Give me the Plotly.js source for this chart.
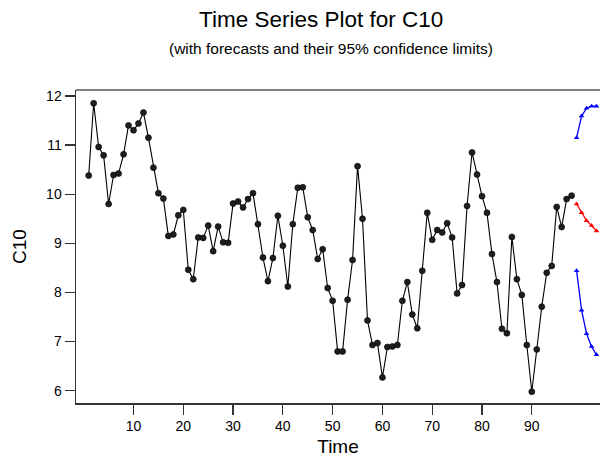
<!DOCTYPE html>
<html>
<head>
<meta charset="utf-8">
<script src="https://cdn.plot.ly/plotly-3.0.1.min.js"></script>
<style>html,body{margin:0;padding:0;background:#fff;}#chart{width:600px;height:463px;}</style>
</head>
<body>
<div id="chart"></div>
<script>
var observed = [10.38, 11.85, 10.96, 10.79, 9.80, 10.39, 10.42, 10.81, 11.40, 11.30,
  11.44, 11.66, 11.15, 10.54, 10.02, 9.91, 9.15, 9.18, 9.57, 9.68,
  8.46, 8.27, 9.12, 9.11, 9.36, 8.84, 9.34, 9.02, 9.01, 9.81,
  9.85, 9.73, 9.90, 10.02, 9.39, 8.71, 8.23, 8.70, 9.56, 8.95,
  8.12, 9.39, 10.13, 10.14, 9.53, 9.27, 8.68, 8.88, 8.09, 7.83,
  6.80, 6.80, 7.85, 8.66, 10.57, 9.50, 7.43, 6.93, 6.97, 6.27,
  6.89, 6.90, 6.93, 7.83, 8.21, 7.55, 7.27, 8.44, 9.62, 9.07,
  9.27, 9.22, 9.41, 9.12, 7.98, 8.15, 9.76, 10.85, 10.40, 9.96,
  9.62, 8.78, 8.21, 7.26, 7.17, 9.13, 8.27, 7.95, 6.93, 5.98,
  6.84, 7.71, 8.40, 8.54, 9.74, 9.33, 9.90, 9.97];
var forecastTime = [99, 100, 101, 102, 103];
var forecast = [9.80, 9.62, 9.46, 9.36, 9.25];
var upper95 = [11.15, 11.59, 11.75, 11.79, 11.79];
var lower95 = [8.44, 7.64, 7.16, 6.90, 6.73];
var xTicks = [10, 20, 30, 40, 50, 60, 70, 80, 90];
var yTicks = [6, 7, 8, 9, 10, 11, 12];

var time = observed.map(function (_, i) { return i + 1; });
var F = 'Liberation Sans, Arial, sans-serif';

var traces = [
  {x: time, y: observed, mode: 'lines+markers', type: 'scatter',
   line: {color: '#000', width: 1.1},
   marker: {symbol: 'circle', size: 6, color: '#1e1e1e', line: {color: '#000', width: 0.6}}},
  {x: forecastTime, y: upper95, mode: 'lines+markers', type: 'scatter',
   line: {color: '#0000ff', width: 1.3},
   marker: {symbol: 'triangle-up', size: 5, color: '#0000ff'}},
  {x: forecastTime, y: forecast, mode: 'lines+markers', type: 'scatter',
   line: {color: '#ff0000', width: 1.3},
   marker: {symbol: 'triangle-up', size: 5, color: '#ff0000'}},
  {x: forecastTime, y: lower95, mode: 'lines+markers', type: 'scatter',
   line: {color: '#0000ff', width: 1.3},
   marker: {symbol: 'triangle-up', size: 5, color: '#0000ff'}}
];

var layout = {
  width: 600, height: 463,
  margin: {l: 76, r: 0, t: 90, b: 60},
  paper_bgcolor: '#fff', plot_bgcolor: '#fff',
  showlegend: false,
  font: {family: F, color: '#000'},
  xaxis: {
    range: [-1.55, 103.7], tickvals: xTicks, ticktext: xTicks.map(String),
    ticks: 'outside', ticklen: 10, tickwidth: 1.2, tickcolor: '#333',
    showline: true, linecolor: '#333', linewidth: 1.5,
    showgrid: false, zeroline: false,
    tickfont: {family: F, size: 14, color: '#000'},
    title: {text: 'Time', font: {family: F, size: 19, color: '#000'}, standoff: 6}
  },
  yaxis: {
    range: [5.75, 12.12], tickvals: yTicks, ticktext: yTicks.map(String),
    ticks: 'outside', ticklen: 10, tickwidth: 1.2, tickcolor: '#333',
    showline: true, linecolor: '#333', linewidth: 1.5,
    showgrid: false, zeroline: false,
    tickfont: {family: F, size: 14, color: '#000'},
    title: {text: 'C10', font: {family: F, size: 19, color: '#000'}, standoff: 14}
  },
  shapes: [
    {type: 'line', xref: 'paper', yref: 'paper', x0: 0, x1: 1, y0: 1, y1: 1,
     line: {color: '#808080', width: 2}}
  ],
  annotations: [
    {text: 'Time Series Plot for C10', xref: 'paper', yref: 'paper', x: 0.467, y: 1.224,
     xanchor: 'center', yanchor: 'middle', showarrow: false,
     font: {family: F, size: 22.5, color: '#000'}},
    {text: '(with forecasts and their 95% confidence limits)', xref: 'paper', yref: 'paper',
     x: 0.487, y: 1.134, xanchor: 'center', yanchor: 'middle', showarrow: false,
     font: {family: F, size: 15.5, color: '#000'}}
  ]
};

Plotly.newPlot('chart', traces, layout, {staticPlot: true, displayModeBar: false});
</script>
</body>
</html>
